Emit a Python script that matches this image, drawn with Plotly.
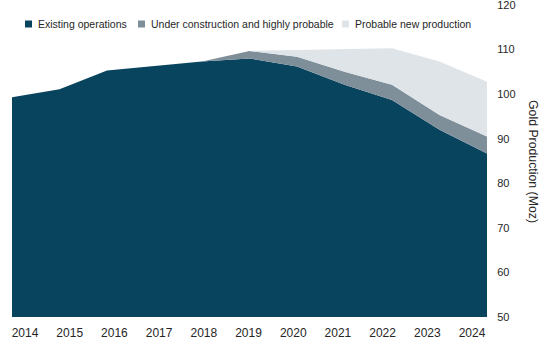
import plotly.graph_objects as go

# Gold production outlook (Moz), stacked by project status
years = [2014, 2015, 2016, 2017, 2018, 2019, 2020, 2021, 2022, 2023, 2024]
existing_operations = [99.3, 101.1, 105.3, 106.3, 107.3, 108.0, 106.2, 102.1, 98.7, 92.0, 86.7]
under_construction = [0, 0, 0, 0, 0, 1.7, 2.2, 2.9, 3.4, 3.3, 3.8]
probable_new = [0, 0, 0, 0, 0, 0, 1.5, 5.1, 8.2, 12.0, 12.3]
tick_labels = [str(y) for y in years]

series_names = ["Existing operations", "Under construction and highly probable",
                "Probable new production"]
colors = ["#08445e", "#7f8f9a", "#dfe4e8"]

FONT = "Liberation Sans, Arial, sans-serif"
TEXT = "#262626"

W, H = 550, 340
ML, MR, MT, MB = 12, 63, 5, 23
PW, PH = W - ML - MR, H - MT - MB


def px_x(x):
    return (x - ML) / PW


def px_y(y):
    return (H - MB - y) / PH


fig = go.Figure()
for name, vals, col in zip(series_names,
                           [existing_operations, under_construction, probable_new],
                           colors):
    fig.add_trace(go.Scatter(
        x=years, y=vals, name=name, mode="lines", stackgroup="gold",
        line=dict(width=0, color=col), fillcolor=col, showlegend=False,
    ))

# year labels sit on their own axis, evenly spread under the plot
fig.add_trace(go.Scatter(x=years, y=[None] * len(years), xaxis="x2",
                         showlegend=False, hoverinfo="skip"))

fig.update_layout(
    width=W, height=H,
    margin=dict(l=ML, r=MR, t=MT, b=MB),
    paper_bgcolor="white", plot_bgcolor="white",
    xaxis=dict(range=[2014, 2024], tickvals=[2014, 2024], showticklabels=False,
               showgrid=True, gridcolor="#d0d0d0", griddash="dot", gridwidth=1,
               zeroline=False, showline=False, ticks="", automargin=False),
    xaxis2=dict(overlaying="x", anchor="y", side="bottom",
                range=[2013.709, 2024.335], tickvals=years, ticktext=tick_labels,
                showgrid=False, zeroline=False, showline=False,
                ticks="outside", ticklen=5, tickcolor="rgba(0,0,0,0)",
                automargin=False, ticklabeloverflow="allow",
                tickfont=dict(family=FONT, size=12, color=TEXT)),
    yaxis=dict(side="right", range=[50, 120], dtick=10, showgrid=False,
               zeroline=False, showline=False, ticks="outside", ticklen=7,
               tickcolor="rgba(0,0,0,0)", automargin=False,
               ticklabeloverflow="allow",
               tickfont=dict(family=FONT, size=11, color=TEXT)),
    showlegend=False,
)

fig.add_annotation(text="Gold Production (Moz)", textangle=90,
                   xref="paper", yref="paper", x=px_x(533), y=px_y(161),
                   xanchor="center", yanchor="middle", showarrow=False,
                   font=dict(family=FONT, size=12.3, color=TEXT))

# legend row: square swatches followed by labels
legend_x = [25, 138, 342]
for lx, name, col in zip(legend_x, series_names, colors):
    fig.add_shape(type="rect", xref="paper", yref="paper",
                  x0=px_x(lx), x1=px_x(lx + 7),
                  y0=px_y(27.5), y1=px_y(20.5),
                  fillcolor=col, line=dict(width=0))
    fig.add_annotation(text=name, xref="paper", yref="paper",
                       x=px_x(lx + 11), y=px_y(24),
                       xanchor="left", yanchor="middle", showarrow=False,
                       font=dict(family=FONT, size=10.5, color=TEXT))

fig.write_html("out.html")
